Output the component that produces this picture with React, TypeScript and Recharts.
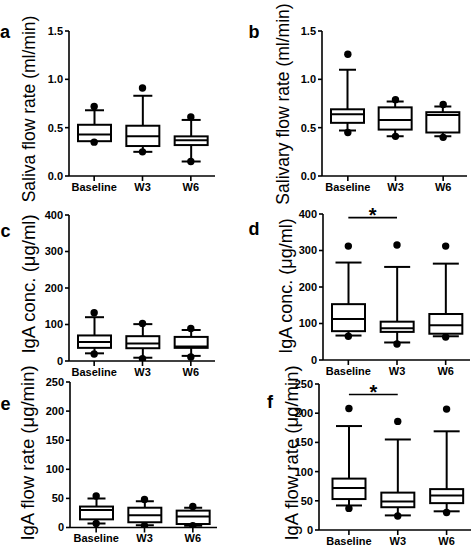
import React from 'react';
import { ComposedChart, Bar, Scatter, XAxis, YAxis, ReferenceLine } from 'recharts';

const FONT = '"Liberation Sans", Arial, Helvetica, sans-serif';

const categories = ['Baseline', 'W3', 'W6'];

// Panel a – Saliva flow rate (ml/min)
const aWhiskerHigh = [0.68, 0.83, 0.58];
const aQ3 = [0.53, 0.52, 0.41];
const aMedian = [0.43, 0.41, 0.37];
const aQ1 = [0.36, 0.31, 0.32];
const aWhiskerLow = [0.36, 0.25, 0.15];
const aOutHigh = [0.72, 0.91, 0.61];
const aOutLow = [0.35, 0.25, 0.15];

// Panel b – Salivary flow rate (ml/min)
const bWhiskerHigh = [1.1, 0.77, 0.72];
const bQ3 = [0.69, 0.71, 0.66];
const bMedian = [0.64, 0.58, 0.63];
const bQ1 = [0.55, 0.48, 0.45];
const bWhiskerLow = [0.47, 0.41, 0.41];
const bOutHigh = [1.26, 0.79, 0.74];
const bOutLow = [0.45, 0.41, 0.4];

// Panel c – IgA conc. (µg/ml)
const cWhiskerHigh = [120, 101, 85];
const cQ3 = [70, 68, 66];
const cMedian = [52, 48, 40];
const cQ1 = [36, 35, 36];
const cWhiskerLow = [21, 9, 14];
const cOutHigh = [132, 103, 89];
const cOutLow = [19, 6, 11];

// Panel d – IgA conc. (µg/ml)
const dWhiskerHigh = [267, 255, 264];
const dQ3 = [153, 105, 126];
const dMedian = [112, 87, 95];
const dQ1 = [79, 77, 72];
const dWhiskerLow = [67, 48, 65];
const dOutHigh = [312, 315, 312];
const dOutLow = [65, 44, 63];
const dSignificance = 390;

// Panel e – IgA flow rate (µg/min)
const eWhiskerHigh = [50, 45, 34];
const eQ3 = [36, 34, 29];
const eMedian = [30, 21, 19];
const eQ1 = [14, 9, 6];
const eWhiskerLow = [7, 4, 3];
const eOutHigh = [54, 48, 36];
const eOutLow = [7, 3, 3];

// Panel f – IgA flow rate (µg/min)
const fWhiskerHigh = [178, 155, 169];
const fQ3 = [88, 64, 70];
const fMedian = [72, 49, 59];
const fQ1 = [53, 39, 46];
const fWhiskerLow = [42, 25, 32];
const fOutHigh = [208, 186, 207];
const fOutLow = [37, 24, 30];
const fSignificance = 232;

const flowTicks = [0, 0.5, 1.0, 1.5];
const concTicks = [0, 100, 200, 300, 400];
const rateTicks = [0, 50, 100, 150, 200, 250];

type Spec = {
  letter: string;
  label: string;
  labelSize: number;
  domain: [number, number];
  ticks: number[];
  decimals: number;
  wHi: number[];
  q3: number[];
  med: number[];
  q1: number[];
  wLo: number[];
  outHi: number[];
  outLo: number[];
  sig?: number;
  left: number;
  top: number;
  width: number;
  height: number;
  axisX: number;
  plotTop: number;
  plotBottom: number;
  axisRight: number;
  padL: number;
  capW: number;
  labelX: number;
  labelY: number;
  letterX: number;
  letterY: number;
};

const specs: Spec[] = [
  {
    letter: 'a', label: 'Saliva flow rate (ml/min)', labelSize: 17.5,
    domain: [0, 1.5], ticks: flowTicks, decimals: 1,
    wHi: aWhiskerHigh, q3: aQ3, med: aMedian, q1: aQ1, wLo: aWhiskerLow, outHi: aOutHigh, outLo: aOutLow,
    left: 0, top: 0, width: 236, height: 215,
    axisX: 69, plotTop: 31, plotBottom: 176, axisRight: 215, padL: 1, capW: 19,
    labelX: 35, labelY: 109, letterX: 0, letterY: 38,
  },
  {
    letter: 'b', label: 'Salivary flow rate (ml/min)', labelSize: 17.5,
    domain: [0, 1.5], ticks: flowTicks, decimals: 1,
    wHi: bWhiskerHigh, q3: bQ3, med: bMedian, q1: bQ1, wLo: bWhiskerLow, outHi: bOutHigh, outLo: bOutLow,
    left: 236, top: 0, width: 236, height: 215,
    axisX: 322, plotTop: 31, plotBottom: 176, axisRight: 467, padL: 2, capW: 17,
    labelX: 289, labelY: 104, letterX: 248.5, letterY: 38,
  },
  {
    letter: 'c', label: 'IgA conc. (μg/ml)', labelSize: 18.5,
    domain: [0, 400], ticks: concTicks, decimals: 0,
    wHi: cWhiskerHigh, q3: cQ3, med: cMedian, q1: cQ1, wLo: cWhiskerLow, outHi: cOutHigh, outLo: cOutLow,
    left: 0, top: 200, width: 236, height: 185,
    axisX: 69, plotTop: 215, plotBottom: 361, axisRight: 215, padL: 1, capW: 19,
    labelX: 35, labelY: 284, letterX: 0.5, letterY: 236.5,
  },
  {
    letter: 'd', label: 'IgA conc. (μg/ml)', labelSize: 18,
    domain: [0, 400], ticks: concTicks, decimals: 0,
    wHi: dWhiskerHigh, q3: dQ3, med: dMedian, q1: dQ1, wLo: dWhiskerLow, outHi: dOutHigh, outLo: dOutLow,
    sig: dSignificance,
    left: 236, top: 200, width: 236, height: 185,
    axisX: 323, plotTop: 214, plotBottom: 360, axisRight: 470, padL: 1, capW: 26,
    labelX: 292, labelY: 286, letterX: 248.5, letterY: 235,
  },
  {
    letter: 'e', label: 'IgA flow rate (μg/min)', labelSize: 18.5,
    domain: [0, 250], ticks: rateTicks, decimals: 0,
    wHi: eWhiskerHigh, q3: eQ3, med: eMedian, q1: eQ1, wLo: eWhiskerLow, outHi: eOutHigh, outLo: eOutLow,
    left: 0, top: 360, width: 236, height: 200,
    axisX: 70, plotTop: 382, plotBottom: 527.5, axisRight: 217, padL: 2, capW: 18,
    labelX: 34, labelY: 453, letterX: 0.5, letterY: 410,
  },
  {
    letter: 'f', label: 'IgA flow rate (μg/min)', labelSize: 18.5,
    domain: [0, 250], ticks: rateTicks, decimals: 0,
    wHi: fWhiskerHigh, q3: fQ3, med: fMedian, q1: fQ1, wLo: fWhiskerLow, outHi: fOutHigh, outLo: fOutLow,
    sig: fSignificance,
    left: 236, top: 360, width: 236, height: 200,
    axisX: 319, plotTop: 384, plotBottom: 530, axisRight: 471, padL: 5.5, capW: 26,
    labelX: 298, labelY: 453, letterX: 267, letterY: 408,
  },
];

const makeBoxShape = (capW: number) => (props: any) => {
  const { x, y, width, height, payload } = props;
  if (x == null || y == null || !payload) return <g />;
  const top = Math.min(y, y + height);
  const h = Math.abs(height);
  const { q1, q3, med, wHi, wLo } = payload;
  const k = q3 !== q1 ? h / (q3 - q1) : 0;
  const py = (v: number) => top + (q3 - v) * k;
  const cx = x + width / 2;
  const sw = 2;
  const hiY = py(wHi);
  const loY = py(wLo);
  return (
    <g>
      {wHi > q3 && <line x1={cx} x2={cx} y1={hiY} y2={top} stroke="#000" strokeWidth={sw} />}
      {wHi > q3 && <line x1={cx - capW / 2} x2={cx + capW / 2} y1={hiY} y2={hiY} stroke="#000" strokeWidth={sw} />}
      {wLo < q1 && <line x1={cx} x2={cx} y1={top + h} y2={loY} stroke="#000" strokeWidth={sw} />}
      {wLo < q1 && <line x1={cx - capW / 2} x2={cx + capW / 2} y1={loY} y2={loY} stroke="#000" strokeWidth={sw} />}
      <rect x={x} y={top} width={width} height={h} fill="#fff" stroke="#000" strokeWidth={sw} />
      <line x1={x} x2={x + width} y1={py(med)} y2={py(med)} stroke="#000" strokeWidth={sw} />
    </g>
  );
};

const dotShape = (props: any) => {
  const { cx, cy } = props;
  if (cx == null || cy == null) return <g />;
  return <circle cx={cx} cy={cy} r={3.7} fill="#000" />;
};

const starLabel = (props: any) => {
  const vb = props.viewBox || {};
  const x = (vb.x ?? 0) + (vb.width ?? 0) / 2;
  const y = vb.y ?? 0;
  return (
    <text x={x} y={y + 4} textAnchor="middle" fontSize={20} fontWeight="bold" fontFamily={FONT} fill="#000">
      *
    </text>
  );
};

function Panel({ s }: { s: Spec }) {
  const rows = categories.map((cat, i) => ({
    cat,
    box: [s.q1[i], s.q3[i]],
    q1: s.q1[i],
    q3: s.q3[i],
    med: s.med[i],
    wHi: s.wHi[i],
    wLo: s.wLo[i],
    outHi: s.outHi[i],
    outLo: s.outLo[i],
  }));
  const Y_W = 30;
  const X_H = 18;
  const margin = {
    top: s.plotTop - s.top,
    left: s.axisX - s.left - Y_W,
    right: s.left + s.width - s.axisRight,
    bottom: s.top + s.height - s.plotBottom - X_H,
  };
  const ox = s.left;
  const oy = s.top;
  const labelContent = () => (
    <g>
      <text x={s.letterX - ox} y={s.letterY - oy} fontSize={18} fontWeight="bold" fontFamily={FONT} fill="#000">
        {s.letter}
      </text>
      <text
        transform={`rotate(-90 ${s.labelX - ox} ${s.labelY - oy})`}
        x={s.labelX - ox}
        y={s.labelY - oy}
        textAnchor="middle"
        fontSize={s.labelSize}
        fontFamily={FONT}
        fill="#000"
      >
        {s.label}
      </text>
    </g>
  );
  const tickStyle = { fontSize: 11, fontWeight: 'bold' as const, fontFamily: FONT, fill: '#000' };
  return (
    <div style={{ position: 'absolute', left: s.left, top: s.top, width: s.width, height: s.height }}>
      <ComposedChart width={s.width} height={s.height} data={rows} margin={margin} barSize={33}>
        <XAxis
          dataKey="cat"
          type="category"
          height={X_H}
          padding={{ left: s.padL, right: 0 }}
          axisLine={{ stroke: '#000', strokeWidth: 1.6 }}
          tickLine={{ stroke: '#000', strokeWidth: 1.6 }}
          tickSize={5}
          tickMargin={2}
          tick={tickStyle}
          interval={0}
        />
        <YAxis
          type="number"
          domain={s.domain}
          ticks={s.ticks}
          width={Y_W}
          interval={0}
          axisLine={{ stroke: '#000', strokeWidth: 1.6 }}
          tickLine={{ stroke: '#000', strokeWidth: 1.6 }}
          tickSize={4}
          tickMargin={2}
          tick={tickStyle}
          tickFormatter={(v: number) => v.toFixed(s.decimals)}
          allowDataOverflow
          label={labelContent}
        />
        <Bar dataKey="box" shape={makeBoxShape(s.capW)} isAnimationActive={false} />
        <Scatter dataKey="outHi" shape={dotShape} isAnimationActive={false} />
        <Scatter dataKey="outLo" shape={dotShape} isAnimationActive={false} />
        {s.sig !== undefined && (
          <ReferenceLine
            segment={[
              { x: categories[0], y: s.sig },
              { x: categories[1], y: s.sig },
            ]}
            stroke="#000"
            strokeWidth={1.6}
            ifOverflow="visible"
            label={starLabel}
          />
        )}
      </ComposedChart>
    </div>
  );
}

export default function App() {
  return (
    <div
      style={{
        position: 'absolute',
        left: 0,
        top: 0,
        width: 472,
        height: 546,
        overflow: 'hidden',
        background: '#fff',
      }}
    >
      {specs.map((s) => (
        <Panel key={s.letter} s={s} />
      ))}
    </div>
  );
}
